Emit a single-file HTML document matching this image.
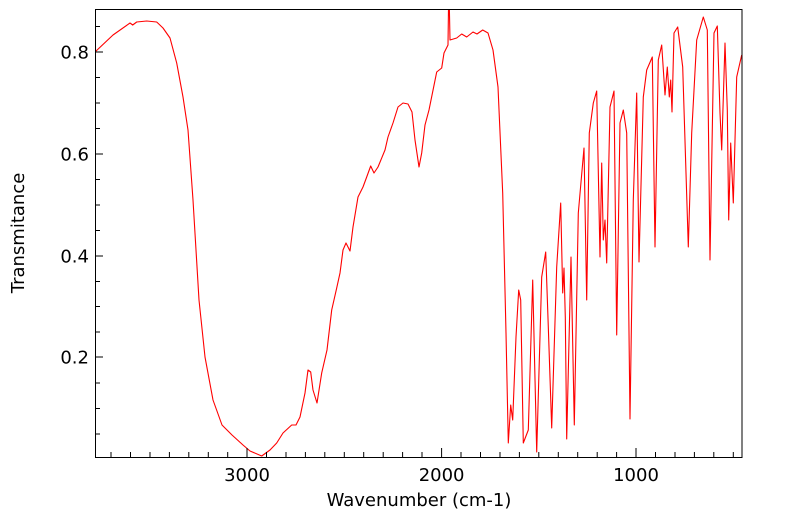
<!DOCTYPE html>
<html><head><meta charset="utf-8"><style>
html,body{margin:0;padding:0;background:#fff;}
svg{display:block;font-family:"DejaVu Sans","Liberation Sans",sans-serif;}
</style></head><body>
<svg width="799" height="516" viewBox="0 0 799 516" xmlns="http://www.w3.org/2000/svg">
<defs><clipPath id="c"><rect x="95" y="9.5" width="647" height="448"/></clipPath></defs>
<g clip-path="url(#c)">
<polyline fill="none" stroke="#ff0000" stroke-width="1.1" stroke-linejoin="round" points="
95,52 113,35 130,23 132.7,25 136.7,22 146.7,21 156.7,22 163,28 170,38 176.7,63 183,97 188,130 193,200 199,300 205,357 213,400 222,425 232,435 243,445 250,451 261.7,456 270,450 276.7,443 283,433 291.7,425 296,425 300,417 305,393 308,370 310.7,372 313,390 317,403 321.7,373 327,350 331.7,310 336.7,288 340,273 343,250 346,243 350,251 353,227 358,197 363,187 366.7,177 370.7,166 374,173 378,167 385,150 388,137 393,123 398,107 403,103 408,104 412,112 415,140 419,167 421.7,153 425,125 429,110 436.7,72 441.7,68 444,53 448,45 448.6,0 449.2,0 450,40 456.7,38 461.7,34 466.7,37 473,32 477,34 482.7,30 488,33 493,50 498,87 502.7,193 506,333 508.3,443 510.7,405 512.7,420 516,337 518.7,290 520.7,300 523.3,443 528.3,430 532.7,280 536.7,452 541.7,277 545.7,252 548.3,327 551.7,428 556.7,267 560.7,203 562.7,293 564,268 565.3,317 566.7,439 571,257 574.3,425 578.3,213 584,148 586.7,300 589.3,133 593.3,103 596.7,91 600,257 601.7,163 603.3,240 605,220 606.7,263 610,107 614,91 616.7,335 620,123 623.3,110 626.7,133 630,419 633.3,200 636.7,93 639,262 643.3,97 646.7,70 652.3,57 655,247 658.3,60 661.7,45 665,95 667.3,67 669.3,97 670.7,80 672,112 674,33 677.7,27 682.7,67 688.3,247 691.7,133 696.7,40 703.3,17 707.3,30 710,260 714,33 717.3,26 720,113 721.7,150 725,43 727.3,110 728.7,220 730.7,143 733.3,203 736.7,77 741.7,55"/>
</g>
<rect x="95.5" y="9.5" width="646.5" height="448" fill="none" stroke="#000" stroke-width="1"/>
<g stroke="#000" stroke-width="1">
<line x1="95" y1="52" x2="103" y2="52"/><line x1="95" y1="154" x2="103" y2="154"/><line x1="95" y1="256" x2="103" y2="256"/><line x1="95" y1="357" x2="103" y2="357"/>
<line x1="95" y1="26.5" x2="100" y2="26.5"/><line x1="95" y1="77.5" x2="100" y2="77.5"/><line x1="95" y1="103" x2="100" y2="103"/><line x1="95" y1="128.5" x2="100" y2="128.5"/><line x1="95" y1="179.5" x2="100" y2="179.5"/><line x1="95" y1="205" x2="100" y2="205"/><line x1="95" y1="230.5" x2="100" y2="230.5"/><line x1="95" y1="281.5" x2="100" y2="281.5"/><line x1="95" y1="306.5" x2="100" y2="306.5"/><line x1="95" y1="332" x2="100" y2="332"/><line x1="95" y1="383" x2="100" y2="383"/><line x1="95" y1="408.5" x2="100" y2="408.5"/><line x1="95" y1="434" x2="100" y2="434"/>
<line x1="111" y1="457" x2="111" y2="452"/><line x1="130.5" y1="457" x2="130.5" y2="452"/><line x1="150" y1="457" x2="150" y2="452"/><line x1="169.4" y1="457" x2="169.4" y2="452"/><line x1="188.8" y1="457" x2="188.8" y2="452"/><line x1="208.3" y1="457" x2="208.3" y2="452"/><line x1="227.7" y1="457" x2="227.7" y2="452"/><line x1="247" y1="457" x2="247" y2="448"/><line x1="266.5" y1="457" x2="266.5" y2="452"/><line x1="286" y1="457" x2="286" y2="452"/><line x1="305.4" y1="457" x2="305.4" y2="452"/><line x1="324.8" y1="457" x2="324.8" y2="452"/><line x1="344.3" y1="457" x2="344.3" y2="452"/><line x1="363.7" y1="457" x2="363.7" y2="452"/><line x1="383.2" y1="457" x2="383.2" y2="452"/><line x1="402.6" y1="457" x2="402.6" y2="452"/><line x1="422" y1="457" x2="422" y2="452"/><line x1="441.6" y1="457" x2="441.6" y2="448"/><line x1="461" y1="457" x2="461" y2="452"/><line x1="480.5" y1="457" x2="480.5" y2="452"/><line x1="500" y1="457" x2="500" y2="452"/><line x1="519.4" y1="457" x2="519.4" y2="452"/><line x1="538.8" y1="457" x2="538.8" y2="452"/><line x1="558.3" y1="457" x2="558.3" y2="452"/><line x1="577.7" y1="457" x2="577.7" y2="452"/><line x1="597.2" y1="457" x2="597.2" y2="452"/><line x1="616.6" y1="457" x2="616.6" y2="452"/><line x1="636" y1="457" x2="636" y2="448"/><line x1="655.5" y1="457" x2="655.5" y2="452"/><line x1="675" y1="457" x2="675" y2="452"/><line x1="694.4" y1="457" x2="694.4" y2="452"/><line x1="713.8" y1="457" x2="713.8" y2="452"/><line x1="733.3" y1="457" x2="733.3" y2="452"/>
</g>
<g font-size="18" fill="#000">
<text x="89" y="58.5" text-anchor="end">0.8</text>
<text x="89" y="160.5" text-anchor="end">0.6</text>
<text x="89" y="262.5" text-anchor="end">0.4</text>
<text x="89" y="363.5" text-anchor="end">0.2</text>
<text x="247" y="481" text-anchor="middle">3000</text>
<text x="441.6" y="481" text-anchor="middle">2000</text>
<text x="636" y="481" text-anchor="middle">1000</text>
</g>
<text x="419" y="506" font-size="18" text-anchor="middle">Wavenumber (cm-1)</text>
<text transform="translate(24,233) rotate(-90)" font-size="18" text-anchor="middle">Transmitance</text>
</svg>
</body></html>
